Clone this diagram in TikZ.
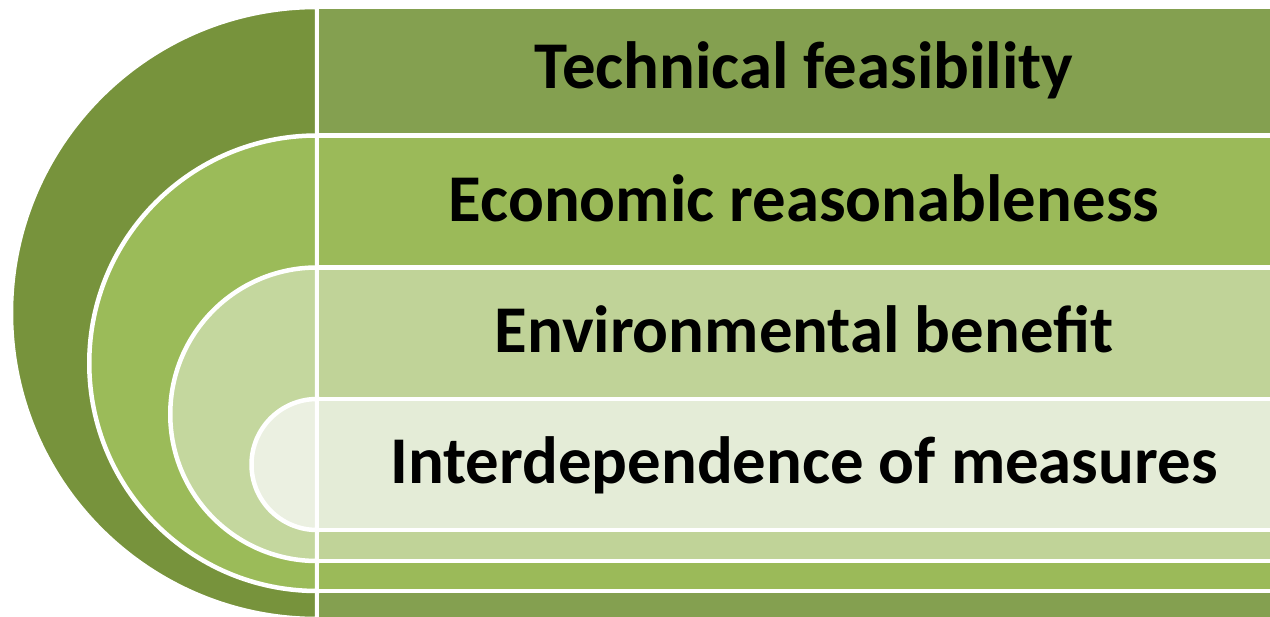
\documentclass[tikz,border=0pt]{standalone}
\usepackage{fontspec}
\setmainfont{Carlito}
\definecolor{discA}{HTML}{77933C}
\definecolor{bandA}{HTML}{84A050}
\definecolor{discB}{HTML}{9BBB59}
\definecolor{bandB}{HTML}{9BBA59}
\definecolor{discC}{HTML}{C4D79E}
\definecolor{bandC}{HTML}{C0D398}
\definecolor{discD}{HTML}{EBF0E1}
\definecolor{bandD}{HTML}{E4ECD7}
\begin{document}
\begin{tikzpicture}[x=1pt,y=-1pt]
	\tikzset{part/.style = {draw=white, line width=4.5pt}}
	\tikzset{label/.style = {anchor=base, inner sep=0pt, font=\fontsize{66.8}{72}\selectfont\bfseries}}
	\useasboundingbox (0,0) rectangle (1270,617);
	\clip (0,0) rectangle (1270,617);
	% nested half discs with their bands, outer first
	\filldraw[part, fill=discA] (317,7) arc[start angle=270, end angle=90, radius=306] -- cycle;
	\filldraw[part, fill=bandA] (317,7) rectangle (1285,619);
	\filldraw[part, fill=discB] (317,135.5) arc[start angle=270, end angle=90, radius=227.75] -- cycle;
	\filldraw[part, fill=bandB] (317,135.5) rectangle (1285,591);
	\filldraw[part, fill=discC] (317,267.5) arc[start angle=270, end angle=90, radius=146.75] -- cycle;
	\filldraw[part, fill=bandC] (317,267.5) rectangle (1285,561);
	\filldraw[part, fill=discD] (317,399) arc[start angle=270, end angle=90, radius=65.5] -- cycle;
	\filldraw[part, fill=bandD] (317,399) rectangle (1285,530);
	% labels
	\node[label] (tech) at (804,89) {Technical feasibility};
	\node[label] (econ) at (804,222) {Economic reasonableness};
	\node[label] (envi) at (804,353) {Environmental benefit};
	\node[label] (inter) at (804,484) {Interdependence of measures};
\end{tikzpicture}
\end{document}
